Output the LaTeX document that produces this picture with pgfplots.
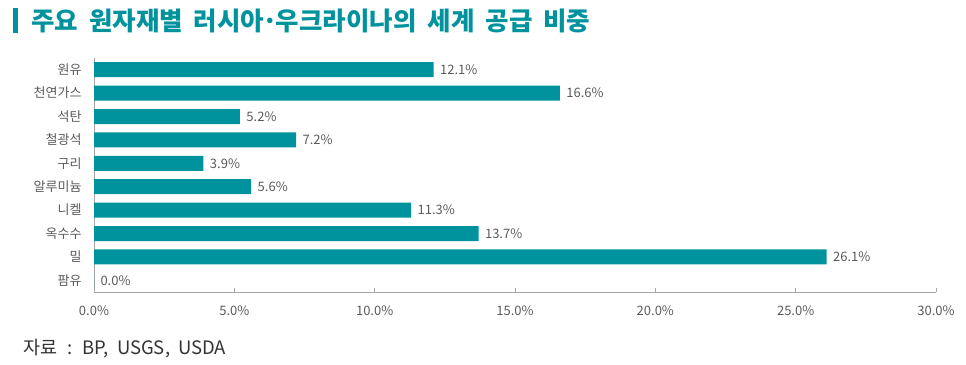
\documentclass[border=0pt]{standalone}
\usepackage{pgfplots}
\pgfplotsset{compat=1.18}
\usepackage{fontspec}
\setmainfont{Noto Sans CJK KR}
\definecolor{teal1}{HTML}{00939E}
\definecolor{axgray}{HTML}{A6A6A6}
\definecolor{lblgray}{HTML}{5A5A5A}
\definecolor{srcgray}{HTML}{333333}
\begin{document}
\begin{tikzpicture}
\useasboundingbox (0pt,0pt) rectangle (966pt,-364pt);
\fill[teal1] (13.3pt,-7.5pt) rectangle (18.3pt,-33pt);
\node[anchor=west, inner sep=0, text=teal1, font=\fontsize{25.5}{28}\selectfont\bfseries] at (31pt,-20.5pt)
  {주요\hspace{11pt}원자재별\hspace{11pt}러시아\kern-2pt·\kern-2pt우크라이나의\hspace{11pt}세계\hspace{11pt}공급\hspace{11pt}비중};
\begin{axis}[
  at={(94pt,-292pt)}, anchor=south west,
  scale only axis, width=842pt, height=234pt,
  xmin=0, xmax=30, ymin=-0.5, ymax=9.5,
  axis lines*=left,
  axis line style={axgray, line width=0.8pt},
  xtick={0,5,10,15,20,25,30},
  tick align=inside,
  major tick length=4pt,
  xtick style={axgray, line width=0.8pt},
  ytick={0,1,2,3,4,5,6,7,8,9},
  yticklabels={팜유,밀,옥수수,니켈,알루미늄,구리,철광석,석탄,천연가스,원유},
  ytick style={draw=none},
  yticklabel style={font=\fontsize{13}{15}\selectfont, text=lblgray, xshift=-9pt},
  /pgf/number format/assume math mode=true,
  xticklabel={\pgfmathprintnumber[fixed,fixed zerofill,precision=1]{\tick}\%},
  xticklabel style={font=\fontsize{13}{15}\selectfont, text=lblgray, yshift=-10pt},
  clip=false,
]
\addplot[xbar, fill=teal1, draw=none, bar width=15pt,
  point meta=x,
  nodes near coords={\pgfmathprintnumber[fixed,fixed zerofill,precision=1,assume math mode=true]{\pgfplotspointmeta}\%},
  every node near coord/.append style={font=\fontsize{13}{15}\selectfont, text=lblgray, anchor=west, xshift=3pt},
] coordinates {
  (12.1,9) (16.6,8) (5.2,7) (7.2,6) (3.9,5) (5.6,4) (11.3,3) (13.7,2) (26.1,1) (0.0,0)
};
\end{axis}
\node[anchor=west, inner sep=0, text=srcgray, font=\fontsize{18.5}{21}\selectfont] at (23pt,-349pt) {자료\kern10pt:\kern10pt BP,\kern8pt USGS,\kern8pt USDA};
\end{tikzpicture}
\end{document}
